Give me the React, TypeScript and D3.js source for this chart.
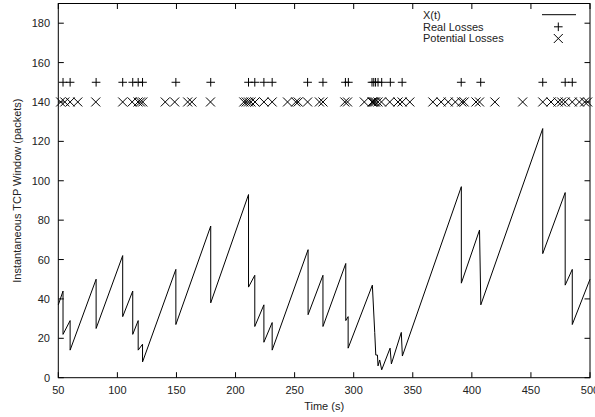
import React from "react";
import * as d3 from "d3";

const lineT = [50, 54, 54, 60, 60, 82, 82, 104.5, 104.5, 113, 113, 117.6, 117.6, 121.3, 121.3, 149.5, 149.5, 179, 179, 211, 211, 216.3, 216.3, 224, 224, 231, 231, 261.4, 261.4, 274, 274, 293.3, 293.3, 295.3, 295.3, 315.8, 317.8, 318.7, 320.1, 320.6, 322, 323.7, 330.8, 331.9, 340.3, 341.2, 391.1, 391.1, 406.5, 407.6, 460, 460, 479, 479, 485, 485, 500];
const lineV = [37, 44, 22, 29, 14, 50, 25, 62, 31, 44, 22, 29, 14, 17, 8, 55, 27, 77, 38, 93, 46, 52, 26, 37, 18, 28, 14, 65, 32, 52, 26, 58, 29, 31, 15, 47, 23, 11.5, 11.5, 6, 9, 4, 15, 7, 23, 11, 97, 48, 75, 37, 126.5, 63, 94, 47, 55, 27, 50];

const realLossT = [54, 60, 82, 104.5, 113, 117.6, 121.3, 149.5, 179, 211, 216.3, 224, 231, 261, 274, 293, 295.5, 315.5, 317, 318.5, 320.6, 323.7, 331, 341, 391, 407.5, 460, 479, 485];
const realLossLevel = 150;

const potentialLossT = [52, 55.5, 60, 66.5, 81.7, 104.5, 112.5, 117.5, 119.5, 121.5, 140.5, 148.5, 159.5, 163, 178.8, 207, 209, 211, 213, 216.5, 224, 231, 244, 251, 253, 261, 271, 274, 292.5, 294.8, 309, 315.5, 316.5, 317.5, 318.5, 320.5, 323.5, 330.5, 337.5, 341, 347.5, 367, 374, 380, 386, 391.5, 393.5, 403.5, 406.5, 419.5, 443, 460, 467, 473, 476, 479, 485, 491, 495.5, 498];
const potentialLossLevel = 140;

const xTicks = [50, 100, 150, 200, 250, 300, 350, 400, 450, 500];
const yTicks = [0, 20, 40, 60, 80, 100, 120, 140, 160, 180];
const legendLabels = ["X(t)", "Real Losses", "Potential Losses"];

const W = 595;
const H = 417;
const L = 58.3;
const R = 590;
const T = 3.5;
const B = 377.7;
const FONT = "'Liberation Sans', Arial, Helvetica, sans-serif";

export default function App() {
  const x = d3.scaleLinear().domain([50, 500]).range([L, R]);
  const y = d3.scaleLinear().domain([0, 190]).range([B, T]);
  const pts: [number, number][] = lineT.map((t, i) => [t, lineV[i]]);
  const line = d3
    .line<[number, number]>()
    .x((d) => x(d[0]))
    .y((d) => y(d[1]));
  const tick = 5.5;
  const ps = 4.3;
  const xs = 4.5;

  const plus = (cx: number, cy: number, k: string) => (
    <path key={k} d={`M${cx - ps},${cy}H${cx + ps}M${cx},${cy - ps}V${cy + ps}`} stroke="#000" strokeWidth={1} fill="none" />
  );
  const cross = (cx: number, cy: number, k: string) => (
    <path key={k} d={`M${cx - xs},${cy - xs}L${cx + xs},${cy + xs}M${cx - xs},${cy + xs}L${cx + xs},${cy - xs}`} stroke="#000" strokeWidth={1} fill="none" />
  );

  return (
    <svg width={W} height={H} style={{ position: "absolute", left: 0, top: 0, background: "#fff" }} fontFamily={FONT}>
      <rect x={0} y={0} width={W} height={H} fill="#fff" />
      {/* ticks */}
      {yTicks.map((v) => (
        <g key={"y" + v}>
          <line x1={L} x2={L + tick} y1={y(v)} y2={y(v)} stroke="#000" />
          <line x1={R} x2={R - tick} y1={y(v)} y2={y(v)} stroke="#000" />
          <text x={50} y={y(v) + 4} fontSize={11} textAnchor="end" fill="#222">
            {v}
          </text>
        </g>
      ))}
      {xTicks.map((v) => (
        <g key={"x" + v}>
          <line x1={x(v)} x2={x(v)} y1={B} y2={B - tick} stroke="#000" />
          <line x1={x(v)} x2={x(v)} y1={T} y2={T + tick} stroke="#000" />
          <text x={x(v)} y={394} fontSize={11} textAnchor="middle" fill="#222">
            {v}
          </text>
        </g>
      ))}
      <text x={(L + R) / 2} y={410} fontSize={11} textAnchor="middle" fill="#222">
        Time (s)
      </text>
      <text transform={`translate(21,${(T + B) / 2}) rotate(-90)`} fontSize={11} textAnchor="middle" fill="#222">
        Instantaneous TCP Window (packets)
      </text>
      {/* data */}
      <path d={line(pts) || ""} fill="none" stroke="#000" strokeWidth={1} />
      {realLossT.map((t, i) => plus(x(t), y(realLossLevel), "p" + i))}
      {potentialLossT.map((t, i) => cross(x(t), y(potentialLossLevel), "c" + i))}
      {/* legend */}
      <text x={423} y={19} fontSize={11} fill="#222">{legendLabels[0]}</text>
      <text x={423} y={30.5} fontSize={11} fill="#222">{legendLabels[1]}</text>
      <text x={423} y={42} fontSize={11} fill="#222">{legendLabels[2]}</text>
      <line x1={542} x2={576} y1={14.7} y2={14.7} stroke="#000" />
      {plus(558.3, 26.8, "lp")}
      {cross(558.3, 38.5, "lc")}
      {/* frame */}
      <rect x={L} y={T} width={R - L} height={B - T} fill="none" stroke="#000" strokeWidth={1} />
    </svg>
  );
}
